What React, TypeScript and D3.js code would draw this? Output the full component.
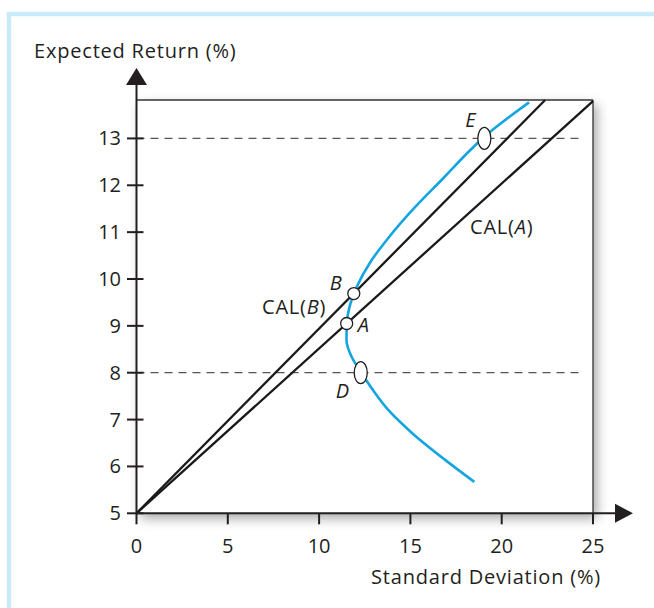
import React from "react";
import * as d3 from "d3";

const W = 654;
const H = 608;

// Axis ticks
const xTicks = [0, 5, 10, 15, 20, 25];
const yTicks = [5, 6, 7, 8, 9, 10, 11, 12, 13];

// Efficient frontier (std dev %, expected return %), read from bottom to top
const frontierSigma = [18.5, 16.9, 15.1, 13.8, 12.95, 12.28, 11.78, 11.5, 11.52, 11.72, 12.07, 12.82, 13.78, 15.2, 16.8, 18.2, 19.0, 21.5];
const frontierReturn = [5.67, 6.14, 6.71, 7.2, 7.63, 8.02, 8.34, 8.7, 9.05, 9.48, 9.84, 10.37, 10.87, 11.51, 12.15, 12.72, 13.02, 13.77];

// Labeled portfolios
const pointNames = ["A", "B", "D", "E"];
const pointSigma = [11.51, 11.9, 12.28, 19.05];
const pointReturn = [9.05, 9.69, 8.0, 13.0];

// Risk-free rate and dashed reference levels
const riskFree = 5;
const dashedLevels = [13, 8];

const FONT = "'Open Sans', 'Noto Sans', sans-serif";
const INK = "#231f20";
const BLUE = "#14a5e0";
const FS = 20;
const LS = 0.8;

export default function App() {
  const x = d3.scaleLinear().domain([0, 25]).range([136.5, 593]);
  const y = d3.scaleLinear().domain([5, 13.82]).range([513.3, 100]);
  const yTop = 13.82;

  const frontier = frontierSigma.map((s, i) => [s, frontierReturn[i]] as [number, number]);
  const line = d3
    .line<[number, number]>()
    .x((d) => x(d[0]))
    .y((d) => y(d[1]))
    .curve(d3.curveMonotoneY);

  const iA = pointNames.indexOf("A");
  const iB = pointNames.indexOf("B");
  const slopeA = (pointReturn[iA] - riskFree) / pointSigma[iA];
  const slopeB = (pointReturn[iB] - riskFree) / pointSigma[iB];
  const endA = Math.min(25, (yTop - riskFree) / slopeA);
  const endB = Math.min(25, (yTop - riskFree) / slopeB);

  const x0 = x(0);
  const y0 = y(5);

  return (
    <svg
      width={W}
      height={H}
      style={{ position: "absolute", left: 0, top: 0, background: "#fff" }}
      fontFamily={FONT}
    >
      <defs>
        <filter id="sh" x="-10%" y="-10%" width="130%" height="130%">
          <feDropShadow dx="4" dy="5" stdDeviation="6" floodColor="#000" floodOpacity="0.35" />
        </filter>
      </defs>
      {/* light blue frame */}
      <rect x={9} y={14} width={W + 20} height={H + 20} fill="none" stroke="#c9ebf9" strokeWidth={4.5} />

      {/* plot box with shadow */}
      <rect x={x0} y={y(yTop)} width={x(25) - x0} height={y0 - y(yTop)} fill="#fff" filter="url(#sh)" />
      <rect x={x0} y={y(yTop)} width={x(25) - x0} height={y0 - y(yTop)} fill="#fff" />
      <line x1={x0} y1={y(yTop)} x2={x(25)} y2={y(yTop)} stroke="#333" strokeWidth={1.3} />
      <line x1={x(25)} y1={y(yTop)} x2={x(25)} y2={y0} stroke="#333" strokeWidth={1.3} />

      {/* dashed levels */}
      {dashedLevels.map((v) => (
        <line key={v} x1={x0} x2={580} y1={y(v)} y2={y(v)} stroke="#555" strokeWidth={1.3} strokeDasharray="8,6" />
      ))}

      {/* CAL lines */}
      <line x1={x(0)} y1={y(riskFree)} x2={x(endA)} y2={y(riskFree + slopeA * endA)} stroke="#1a1a1a" strokeWidth={2.3} />
      <line x1={x(0)} y1={y(riskFree)} x2={x(endB)} y2={y(riskFree + slopeB * endB)} stroke="#1a1a1a" strokeWidth={2.3} />

      {/* frontier */}
      <path d={line(frontier) || ""} fill="none" stroke={BLUE} strokeWidth={2.6} />

      {/* axes */}
      <line x1={x0} y1={y0} x2={x0} y2={84} stroke={INK} strokeWidth={2} />
      <path d={`M${x0},68 L${x0 + 10.5},85 L${x0 - 10.5},85 Z`} fill={INK} />
      <line x1={x0} y1={y0} x2={616} y2={y0} stroke={INK} strokeWidth={2} />
      <path d={`M633,${y0} L615,${y0 - 9.5} L615,${y0 + 9.5} Z`} fill={INK} />

      {yTicks.map((t) => (
        <g key={t}>
          <line x1={x0 - 9.5} x2={x0 + 7} y1={y(t)} y2={y(t)} stroke={INK} strokeWidth={2} />
          <text x={121} y={y(t) + 7} textAnchor="end" fontSize={FS} fill={INK}>
            {t}
          </text>
        </g>
      ))}
      {xTicks.map((t) => (
        <g key={t}>
          <line x1={x(t)} x2={x(t)} y1={y0} y2={y0 + 11} stroke={INK} strokeWidth={2} />
          <text x={x(t)} y={553} textAnchor="middle" fontSize={FS} fill={INK}>
            {t}
          </text>
        </g>
      ))}

      {/* axis titles */}
      <text x={34} y={58} fontSize={FS} letterSpacing={LS} fill={INK}>
        Expected Return (%)
      </text>
      <text x={601} y={584} textAnchor="end" fontSize={FS} letterSpacing={LS} fill={INK}>
        Standard Deviation (%)
      </text>

      {/* CAL labels */}
      <text x={262} y={314} fontSize={FS} letterSpacing={LS} fill={INK}>
        CAL(<tspan fontStyle="italic">B</tspan>)
      </text>
      <text x={470} y={234} fontSize={FS} letterSpacing={LS} fill={INK}>
        CAL(<tspan fontStyle="italic">A</tspan>)
      </text>

      {/* point markers */}
      {pointNames.map((n, i) => {
        const cx = x(pointSigma[i]);
        const cy = y(pointReturn[i]);
        const ell = n === "D" || n === "E";
        return ell ? (
          <ellipse key={n} cx={cx} cy={cy} rx={6.5} ry={11} fill="#fff" stroke={INK} strokeWidth={1.3} />
        ) : (
          <circle key={n} cx={cx} cy={cy} r={6} fill="#fff" stroke={INK} strokeWidth={1.3} />
        );
      })}

      {/* point labels */}
      <text x={x(pointSigma[iA]) + 11} y={y(pointReturn[iA]) + 8} fontSize={FS} fontStyle="italic" fill={INK}>A</text>
      <text x={x(pointSigma[iB]) - 24} y={y(pointReturn[iB]) - 4} fontSize={FS} fontStyle="italic" fill={INK}>B</text>
      <text x={x(pointSigma[2]) - 25} y={y(pointReturn[2]) + 25} fontSize={FS} fontStyle="italic" fill={INK}>D</text>
      <text x={x(pointSigma[3]) - 19} y={y(pointReturn[3]) - 11} fontSize={FS} fontStyle="italic" fill={INK}>E</text>
    </svg>
  );
}
